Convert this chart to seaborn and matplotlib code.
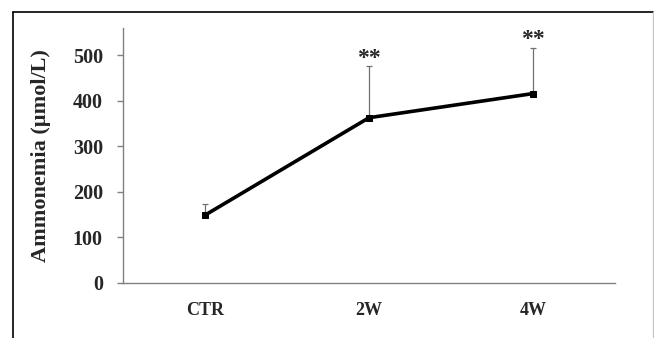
import matplotlib
matplotlib.use("Agg")
import matplotlib.pyplot as plt
import seaborn as sns
import pandas as pd
from matplotlib.lines import Line2D

categories = ["CTR", "2W", "4W"]
means = [149, 363, 416]
sd_upper = [24, 113, 101]
signif = ["", "**", "**"]
yticks = [0, 100, 200, 300, 400, 500]

sns.set_theme(style="white")
plt.rcParams["font.family"] = ["Liberation Serif", "DejaVu Serif"]

fig = plt.figure(figsize=(6.54, 3.38), dpi=100)
W, H = 654, 338
ax = fig.add_axes([123 / W, 1 - 283 / H, (615 - 123) / W, (283 - 28) / H])

df = pd.DataFrame({"group": categories, "value": means})
ax.errorbar(range(len(categories)), means,
            yerr=[[0] * len(means), sd_upper],
            fmt="none", ecolor="#707070", elinewidth=0.9, capsize=2, capthick=0.9, zorder=2)
sns.lineplot(data=df, x="group", y="value", ax=ax, sort=False, color="black",
             linewidth=2.6, marker="s", markersize=5, markeredgecolor="black", zorder=3)

for i, (m, e, s) in enumerate(zip(means, sd_upper, signif)):
    if s:
        ax.annotate(s, (i, m + e), xytext=(0, -2), textcoords="offset points",
                    ha="center", va="bottom", fontsize=17, fontweight="bold")

ax.set_xlim(-0.5, 2.5)
ax.set_ylim(0, 560)
ax.set_yticks(yticks)
ax.set_xlabel("")
ax.set_ylabel("Ammonemia (µmol/L)", fontsize=16, fontweight="bold", labelpad=16)
for lab in ax.get_yticklabels():
    lab.set_fontweight("bold")
    lab.set_fontsize(14.5)
for lab in ax.get_xticklabels():
    lab.set_fontweight("bold")
    lab.set_fontsize(13)

for side in ["top", "right"]:
    ax.spines[side].set_visible(False)
for side in ["left", "bottom"]:
    ax.spines[side].set_color("#808080")
    ax.spines[side].set_linewidth(1.0)
ax.tick_params(axis="y", which="both", left=True, length=4.5, width=1, color="#808080",
               direction="out", pad=10)
ax.tick_params(axis="x", bottom=False, pad=8)
ax.grid(False)

# Outer frame
fig.add_artist(Line2D([13 / W, 13 / W], [0, 1 - 12 / H], transform=fig.transFigure,
                      color="black", linewidth=1.2))
fig.add_artist(Line2D([13 / W, 653 / W], [1 - 12 / H, 1 - 12 / H], transform=fig.transFigure,
                      color="black", linewidth=1.2))
fig.add_artist(Line2D([652.5 / W, 652.5 / W], [0, 1 - 12 / H], transform=fig.transFigure,
                      color="#c8c8c8", linewidth=1.0))

fig.savefig("out.png", dpi=100)
